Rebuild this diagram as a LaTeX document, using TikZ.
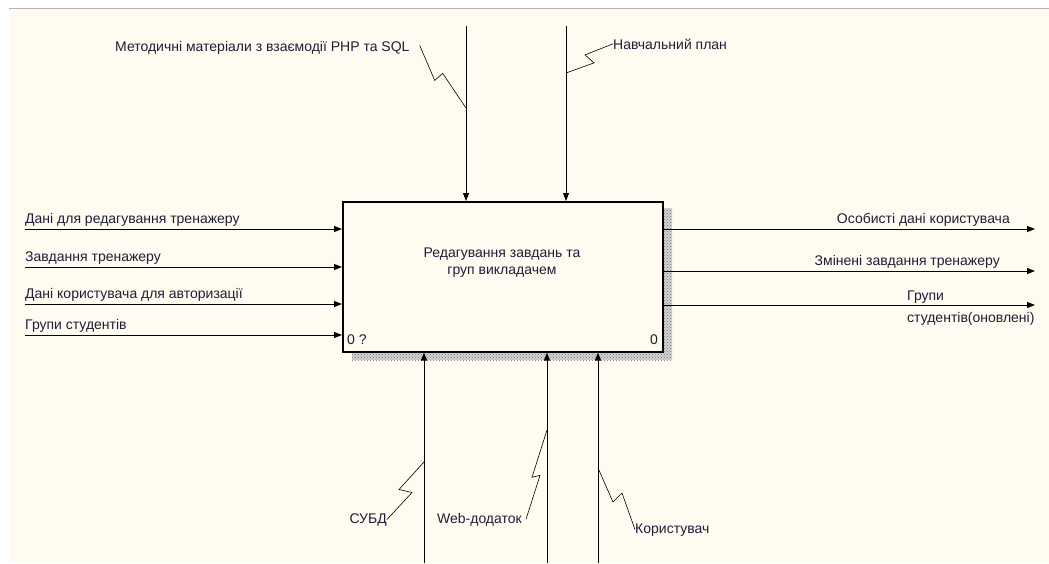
\documentclass[tikz,border=0pt]{standalone}
\usepackage{fontspec}
\setmainfont{Liberation Sans}
\usetikzlibrary{arrows.meta,patterns}
\definecolor{cream}{RGB}{255,251,240}
\definecolor{ink}{RGB}{30,30,55}
\tikzset{
  lbl/.style={text=ink,inner sep=0pt,font=\fontsize{14}{17}\selectfont},
  flow/.style={->,line width=0.9pt},
  tail/.style={line width=0.6pt},
}

\begin{document}
\begin{tikzpicture}[x=1pt,y=-1pt,>={Triangle[length=8pt,width=6pt]}]
  \useasboundingbox (0,0) rectangle (1049,563);
  \fill[white] (0,0) rectangle (1049,563);
  \fill[cream] (9,8) rectangle (1049,563);
  \draw[gray!60] (9,8) -- (1049,8);
  % shadow and box
  \fill[gray!35] (352,208) rectangle (672,360);
  \fill[pattern=crosshatch dots,pattern color=gray!90!black] (352,208) rectangle (672,360);
  \node[draw,line width=1.6pt,fill=cream,minimum width=320pt,minimum height=150pt,anchor=north west] (act) at (342,201) {};
  \node[lbl,align=center] (actname) at (502,263) {Редагування завдань та\\груп викладачем};
  \node[lbl,anchor=base west] (numl) at (347,344) {0 ?};
  \node[lbl,anchor=base east] (numr) at (658,344) {0};

  % inputs
  \foreach \y/\t [count=\i] in {229/Дані для редагування тренажеру,267/Завдання тренажеру,304/Дані користувача для авторизації,335/Групи студентів}
  {
    \coordinate (in\i) at (25,\y);
    \draw[flow] (in\i) -- (act.west |- in\i);
    \node[lbl,anchor=base west] (inl\i) at (25,\y-6) {\t};
  }

  % outputs
  \foreach \y [count=\i] in {229,271,305}
  {
    \coordinate (out\i) at (1035,\y);
    \draw[flow] (act.east |- out\i) -- (out\i);
  }
  \node[lbl,anchor=base east] (outl1) at (1010,223) {Особисті дані користувача};
  \node[lbl,anchor=base east] (outl2) at (1000,265) {Змінені завдання тренажеру};
  \node[lbl,anchor=base west] (outl3) at (907,300) {Групи};
  \node[lbl,anchor=base west] (outl3b) at (907,322) {студентів(оновлені)};

  % controls
  \foreach \x [count=\i] in {466,566}
  {
    \coordinate (ctl\i) at (\x,26);
    \draw[flow] (ctl\i) -- (ctl\i |- act.north);
  }
  \node[lbl,anchor=base west] (ctll1) at (115,51) {Методичні матеріали з взаємодії PHP та SQL};
  \node[lbl,anchor=base west] (ctll2) at (613,49) {Навчальний план};
  \coordinate (j1) at (466,108);
  \coordinate (j2) at (566,73);
  \draw[tail] ([xshift=10pt,yshift=2pt]ctll1.east) -- ++(15,35) -- ++(8,-7) -- (j1);
  \draw[tail] (ctll2.west) -- ++(-28,11) -- ++(9,8) -- (j2);

  % mechanisms
  \foreach \x [count=\i] in {424,547,598}
  {
    \coordinate (mch\i) at (\x,563);
    \draw[flow] (mch\i) -- (mch\i |- act.south);
  }
  \node[lbl,anchor=base east] (mchl1) at (387,523) {СУБД};
  \node[lbl,anchor=base east] (mchl2) at (522,523) {Web-додаток};
  \node[lbl,anchor=base west] (mchl3) at (635,533) {Користувач};
  \coordinate (j3) at (424,462);
  \coordinate (j4) at (547,430);
  \coordinate (j5) at (598,468);
  \draw[tail] (mchl1.east) -- ++(25,-27) -- ++(-13,-3) -- (j3);
  \draw[tail] ([xshift=4pt]mchl2.east) -- ++(14,-44) -- ++(-8,2) -- (j4);
  \draw[tail] (j5) -- ++(15,34) -- ++(9,-9) -- (mchl3.west);
\end{tikzpicture}
\end{document}
